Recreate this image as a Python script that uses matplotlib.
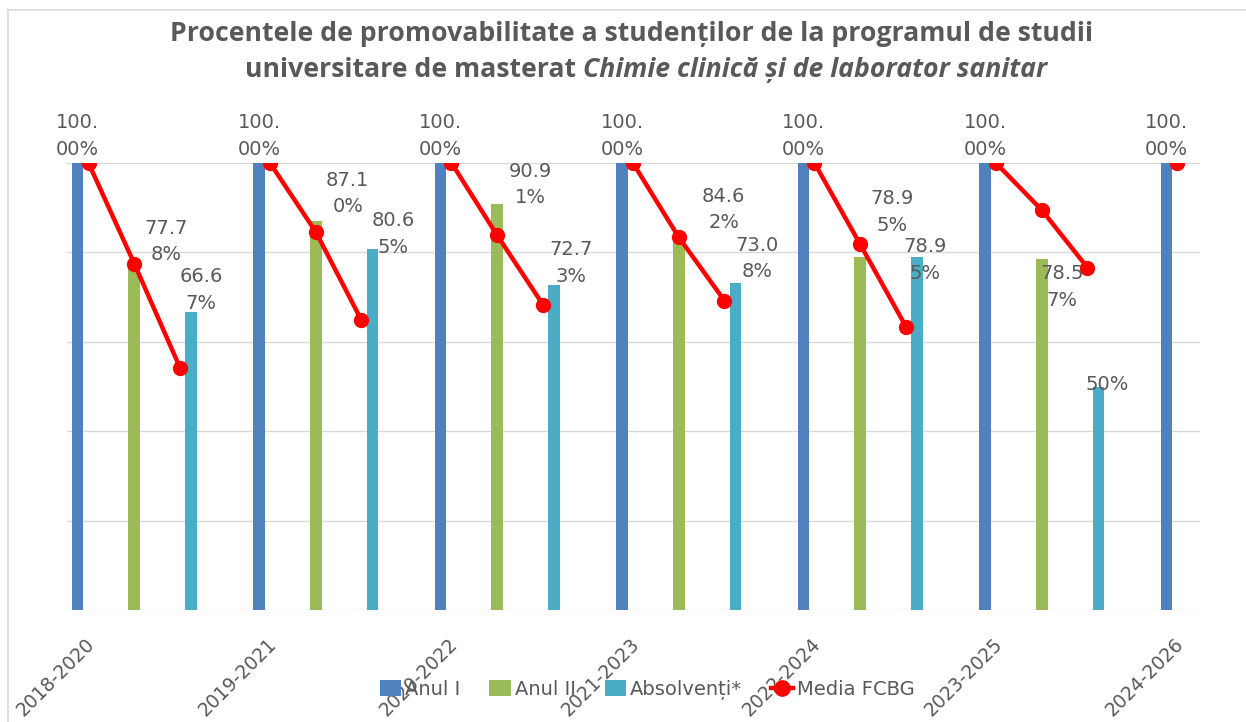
import matplotlib
matplotlib.use("Agg")
import matplotlib.pyplot as plt
import matplotlib.transforms as mtransforms
from matplotlib.lines import Line2D
from matplotlib.patches import Patch
import numpy as np

# ---------------- data ----------------
categories = ["2018-2020", "2019-2021", "2020-2022", "2021-2023",
              "2022-2024", "2023-2025", "2024-2026"]
anul_I = [100.00, 100.00, 100.00, 100.00, 100.00, 100.00, 100.00]
anul_II = [77.78, 87.10, 90.91, 84.62, 78.95, 78.57, None]
absolventi = [66.67, 80.65, 72.73, 73.08, 78.95, 50.00, None]
media_fcbg = [[100.0, 77.5, 54.2],
              [100.0, 84.6, 64.8],
              [100.0, 83.8, 68.3],
              [100.0, 83.4, 69.2],
              [100.0, 81.8, 63.4],
              [100.0, 89.5, 76.6],
              [100.0]]
series_names = ["Anul I", "Anul II", "Absolvenți*", "Media FCBG"]
title_line1 = "Procentele de promovabilitate a studenților de la programul de studii"
title_line2a = "universitare de masterat "
title_line2b = "Chimie clinică și de laborator sanitar"

# ---------------- style ----------------
C_BLUE = "#4F81BD"
C_GREEN = "#9BBB59"
C_TEAL = "#4BACC6"
C_RED = "#FF0000"
C_TEXT = "#595959"
C_GRID = "#D9D9D9"
LBL_FONT = "DejaVu Sans"

W, H = 1246, 722
fig = plt.figure(figsize=(W / 100, H / 100), dpi=100)
fig.patch.set_facecolor("white")

ax = fig.add_axes([67 / W, 1 - 610 / H, (1200 - 67) / W, 447 / H])
ax.set_xlim(-0.058, 6.185)
ax.set_ylim(0, 100)
for s in ax.spines.values():
    s.set_visible(False)
ax.set_yticks([0, 20, 40, 60, 80, 100])
ax.set_yticklabels([])
ax.tick_params(axis="both", length=0)
ax.set_xticks([])
ax.grid(axis="y", color=C_GRID, lw=1.0)
ax.set_axisbelow(True)

n = len(categories)
x = np.arange(n)
step = 56.75 / 181.5
bw = 11.7 / 181.5

def clean(v):
    return [np.nan if a is None else a for a in v]

ax.bar(x, anul_I, width=bw, color=C_BLUE, zorder=2)
ax.bar(x + step, clean(anul_II), width=bw, color=C_GREEN, zorder=2)
ax.bar(x + 2 * step, clean(absolventi), width=bw, color=C_TEAL, zorder=2)

# Media FCBG broken line per group
lstep = 45.75 / 181.5
l0 = 11.0 / 181.5
for i, seg in enumerate(media_fcbg):
    xs = [i + l0 + k * lstep for k in range(len(seg))]
    ax.plot(xs, seg, color=C_RED, lw=3.2, marker="o", ms=10, zorder=4,
            solid_capstyle="round")

def fmt(v):
    if abs(v - round(v)) < 1e-9 and v != 100:
        return f"{v:.0f}%"
    s = f"{v:.2f}%"
    return s[:4] + "\n" + s[4:]

# label offsets in pixels (dx, dy) relative to bar top centre
off_I = [(0, 27)] * n
off_II = [(32, 21), (32, 27), (33, 19), (45, 22), (32, 45), (20, -28)]
off_AB = [(10, 22), (21, 15.5), (17, 22), (21.5, 25), (8, -3), (8.5, 2.5)]

def label(xv, v, off):
    ax.annotate(fmt(v), xy=(xv, v), xytext=off, textcoords="offset pixels",
                ha="center", va="center", fontsize=14, color=C_TEXT,
                family=LBL_FONT, linespacing=1.5, zorder=5)

for i in range(n):
    label(x[i], anul_I[i], off_I[i])
for i, v in enumerate(anul_II):
    if v is not None:
        label(x[i] + step, v, off_II[i])
for i, v in enumerate(absolventi):
    if v is not None:
        label(x[i] + 2 * step, v, off_AB[i])

# category labels
trans = mtransforms.blended_transform_factory(ax.transData, ax.transAxes)
for i, c in enumerate(categories):
    ax.text(i + 0.08, -0.07, c, transform=trans, rotation=45, ha="right",
            va="center", rotation_mode="anchor", fontsize=13.5, color=C_TEXT,
            family=LBL_FONT, clip_on=False)

# legend
handles = [Patch(facecolor=C_BLUE), Patch(facecolor=C_GREEN), Patch(facecolor=C_TEAL),
           Line2D([], [], color=C_RED, lw=3.2, marker="o", ms=11)]
leg = fig.legend(handles, series_names, loc="center", ncol=4,
                 bbox_to_anchor=(647 / W, 1 - 690 / H), frameon=False,
                 prop={"family": LBL_FONT, "size": 14}, labelcolor=C_TEXT,
                 handlelength=1.1, handleheight=0.9, handletextpad=0.2,
                 columnspacing=1.5)

# title
tfont = dict(family="Open Sans", weight="bold", size=19.2, color=C_TEXT)
fig.text(632 / W, 1 - 34 / H, title_line1, ha="center", va="center", **tfont)
ta = fig.text(0, 1 - 70 / H, title_line2a, ha="left", va="center", **tfont)
tb = fig.text(0, 1 - 70 / H, title_line2b, ha="left", va="center", style="italic", **tfont)
r = fig.canvas.get_renderer()
wa = ta.get_window_extent(r).width
wb = tb.get_window_extent(r).width
start = 646 - (wa + wb) / 2
ta.set_x(start / W)
tb.set_x((start + wa) / W)

# chart frame lines
fig.add_artist(Line2D([8 / W, 8 / W], [0, 1 - 10 / H], transform=fig.transFigure,
                      color=C_GRID, lw=1.2))
fig.add_artist(Line2D([8 / W, 1], [1 - 10 / H, 1 - 10 / H], transform=fig.transFigure,
                      color=C_GRID, lw=1.2))

fig.savefig("out.png", dpi=100)
